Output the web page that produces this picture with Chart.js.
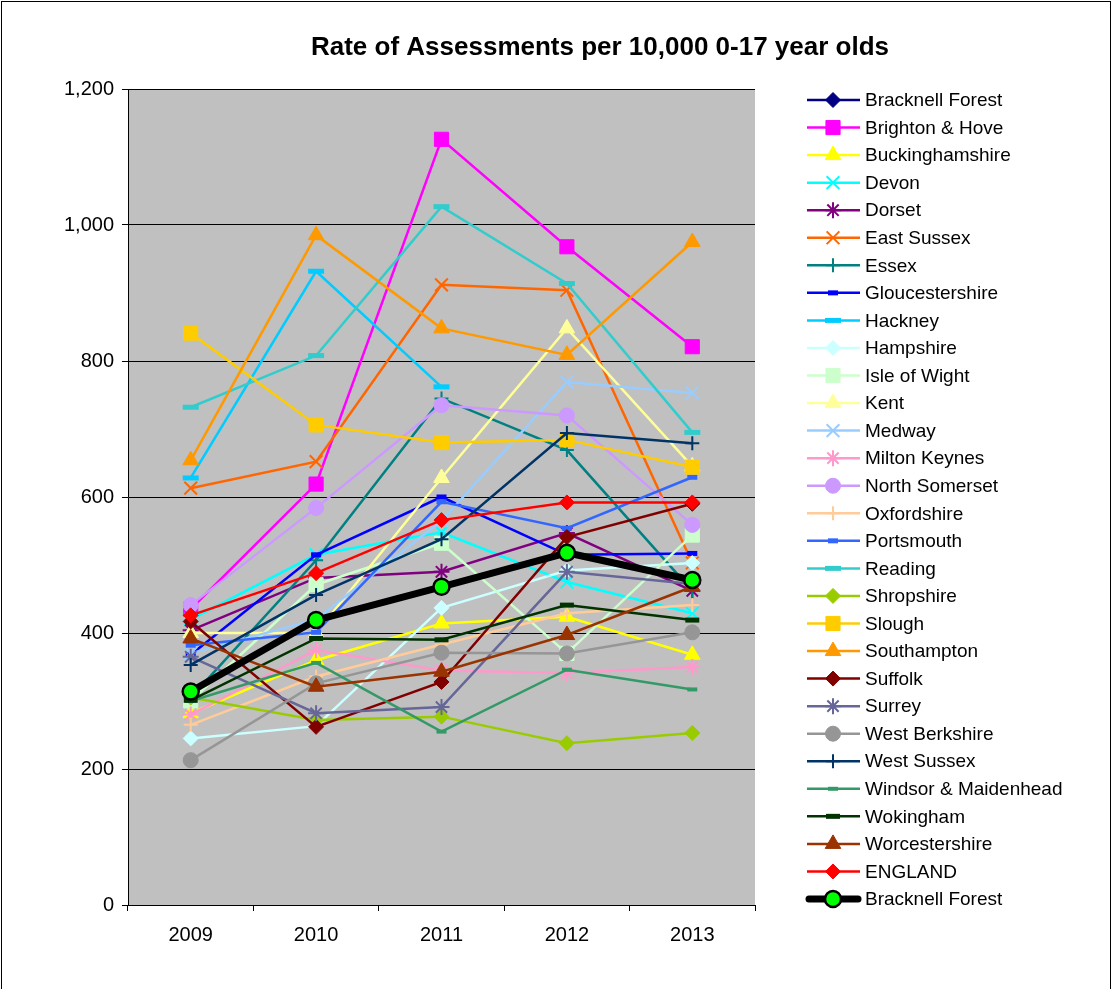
<!DOCTYPE html>
<html><head><meta charset="utf-8">
<script src="https://cdn.jsdelivr.net/npm/chart.js@4"></script>
<style>html,body{margin:0;padding:0;background:#fff;}#wrap{width:1113px;height:989px;}</style>
</head><body><div id="wrap"><canvas id="c" width="1113" height="989"></canvas></div>
<script>
const years = ['2009','2010','2011','2012','2013'];
const seriesNames = ['Bracknell Forest','Brighton & Hove','Buckinghamshire','Devon','Dorset','East Sussex','Essex','Gloucestershire','Hackney','Hampshire','Isle of Wight','Kent','Medway','Milton Keynes','North Somerset','Oxfordshire','Portsmouth','Reading','Shropshire','Slough','Southampton','Suffolk','Surrey','West Berkshire','West Sussex','Windsor & Maidenhead','Wokingham','Worcestershire','ENGLAND','Bracknell Forest'];
const bracknellForest = [314,419,468,518,478];
const brightonHove = [435,619,1126,968,821];
const buckinghamshire = [282,360,414,424,368];
const devon = [420,515,548,475,429];
const dorset = [404,481,490,547,462];
const eastSussex = [613,652,912,904,503];
const essex = [305,507,745,669,462];
const gloucestershire = [368,515,600,515,517];
const hackney = [628,932,762,null,null];
const hampshire = [245,263,437,492,503];
const isleOfWight = [300,471,532,370,544];
const kent = [400,400,628,848,645];
const medway = [370,420,565,769,753];
const miltonKeynes = [280,375,345,341,350];
const northSomerset = [441,584,735,720,559];
const oxfordshire = [265,336,383,429,441];
const portsmouth = [382,401,593,554,629];
const reading = [732,808,1027,914,695];
const shropshire = [305,272,277,238,253];
const slough = [841,706,680,684,644];
const southampton = [654,985,848,809,975];
const suffolk = [417,262,328,541,590];
const surrey = [365,282,291,490,472];
const westBerkshire = [213,326,371,370,401];
const westSussex = [353,456,538,694,679];
const windsorMaidenhead = [300,356,255,346,317];
const wokingham = [301,392,390,441,419];
const worcestershire = [392,321,343,397,468];
const england = [426,488,566,592,592];
const yTicks = [0,200,400,600,800,1000,1200];

const seriesData = [bracknellForest,brightonHove,buckinghamshire,devon,dorset,eastSussex,essex,gloucestershire,hackney,hampshire,isleOfWight,kent,medway,miltonKeynes,northSomerset,oxfordshire,portsmouth,reading,shropshire,slough,southampton,suffolk,surrey,westBerkshire,westSussex,windsorMaidenhead,wokingham,worcestershire,england,bracknellForest];

// styles: [color, pointStyle, radius, pointBorderWidth]
const styles = [
 ['#000080','rectRot',7.5,1],
 ['#FF00FF','rect',10,1],
 ['#FFFF00','triangle',9,1],
 ['#00FFFF','crossRot',9,2],
 ['#800080','star',8,2],
 ['#FF6600','crossRot',9,2],
 ['#008080','cross',7,2],
 ['#0000FF','line',5,5],
 ['#00CCFF','line',8,5],
 ['#CCFFFF','rectRot',7.5,1],
 ['#CCFFCC','rect',10,1],
 ['#FFFF99','triangle',9,1],
 ['#99CCFF','crossRot',9,2],
 ['#FF99CC','star',8,2],
 ['#CC99FF','circle',7.5,1],
 ['#FFCC99','cross',7,2],
 ['#3366FF','line',5,5],
 ['#33CCCC','line',8,5],
 ['#99CC00','rectRot',7.5,1],
 ['#FFCC00','rect',10,1],
 ['#FF9900','triangle',9,1],
 ['#800000','rectRot',7.5,1],
 ['#666699','star',8,2],
 ['#969696','circle',7.5,1],
 ['#003366','cross',7,2],
 ['#339966','line',5,4],
 ['#003300','line',7,5],
 ['#993300','triangle',9,1],
 ['#FF0000','rectRot',7.5,1]
];

const N = seriesNames.length;
const datasets = seriesNames.map((name,i)=>{
  if (i === N-1) {
    return {label:name,data:seriesData[i],borderColor:'#000',borderWidth:7,pointStyle:'circle',pointRadius:8,
      pointBackgroundColor:'#00FF00',pointBorderColor:'#000',pointBorderWidth:2.5,tension:0,order:N-i,
      borderCapStyle:'round',borderJoinStyle:'round'};
  }
  const s = styles[i];
  return {label:name,data:seriesData[i],borderColor:s[0],backgroundColor:s[0],borderWidth:2.5,
    pointStyle:s[1],pointRadius:s[2],pointBackgroundColor:s[0],pointBorderColor:s[0],pointBorderWidth:s[3],
    tension:0,spanGaps:false,order:N-i};
});

const FONT = "'Liberation Sans', Arial, sans-serif";
Chart.defaults.font.family = FONT;
Chart.defaults.color = '#000';

const deco = {
  id:'deco',
  beforeDraw(chart){
    const ctx = chart.ctx, a = chart.chartArea;
    ctx.save();
    ctx.fillStyle = '#fff';
    ctx.fillRect(0,0,chart.width,chart.height);
    ctx.fillStyle = '#C0C0C0';
    ctx.fillRect(a.left,a.top,a.right-a.left,a.bottom-a.top);
    ctx.restore();
  },
  afterDraw(chart){
    const ctx = chart.ctx;
    ctx.save();
    // outer border
    ctx.strokeStyle = '#000'; ctx.lineWidth = 1;
    ctx.strokeRect(1.5,1.5,1109,995);
    // title
    ctx.fillStyle = '#000';
    ctx.font = "bold 26px " + FONT;
    ctx.textAlign = 'center'; ctx.textBaseline = 'middle';
    ctx.fillText('Rate of Assessments per 10,000 0-17 year olds', 600, 48);
    // legend
    ctx.font = "19px " + FONT;
    ctx.textAlign = 'left';
    const step = (899-100)/(N-1);
    chart.data.datasets.forEach((ds,i)=>{
      const y = 100 + i*step;
      ctx.save();
      ctx.strokeStyle = ds.borderColor;
      ctx.lineWidth = ds.borderWidth;
      ctx.lineCap = (i===N-1)?'round':'butt';
      ctx.beginPath();
      ctx.moveTo(i===N-1?809:807,y); ctx.lineTo(i===N-1?858:860,y); ctx.stroke();
      ctx.fillStyle = ds.pointBackgroundColor;
      ctx.strokeStyle = ds.pointBorderColor;
      ctx.lineWidth = ds.pointBorderWidth;
      ctx.lineCap = 'butt';
      Chart.helpers.drawPoint(ctx,{pointStyle:ds.pointStyle,radius:ds.pointRadius,borderWidth:ds.pointBorderWidth,rotation:0},833,y);
      ctx.restore();
      ctx.fillStyle = '#000';
      ctx.fillText(ds.label, 865, y+1);
    });
    ctx.restore();
  }
};

new Chart(document.getElementById('c'),{
  type:'line',
  data:{labels:years,datasets},
  options:{
    responsive:false,animation:false,devicePixelRatio:1,
    layout:{padding:{left:0,top:89,right:358,bottom:0}},
    plugins:{legend:{display:false},title:{display:false},tooltip:{enabled:false}},
    scales:{
      x:{type:'category',offset:true,
        grid:{offset:true,drawOnChartArea:false,drawTicks:true,tickLength:6,color:'#000',lineWidth:1},
        border:{color:'#000',width:1},
        ticks:{font:{size:20},color:'#000',padding:12,maxRotation:0},
        afterFit(s){s.height=84;}
      },
      y:{min:0,max:1200,
        afterBuildTicks(s){s.ticks = yTicks.map(v=>({value:v}));},
        grid:{color:'#000',lineWidth:1,tickLength:6,drawTicks:true},
        border:{color:'#000',width:1},
        ticks:{font:{size:20},color:'#000',padding:8,callback:v=>v.toLocaleString('en-US')},
        afterFit(s){s.width=128;}
      }
    }
  },
  plugins:[deco]
});
</script></body></html>
